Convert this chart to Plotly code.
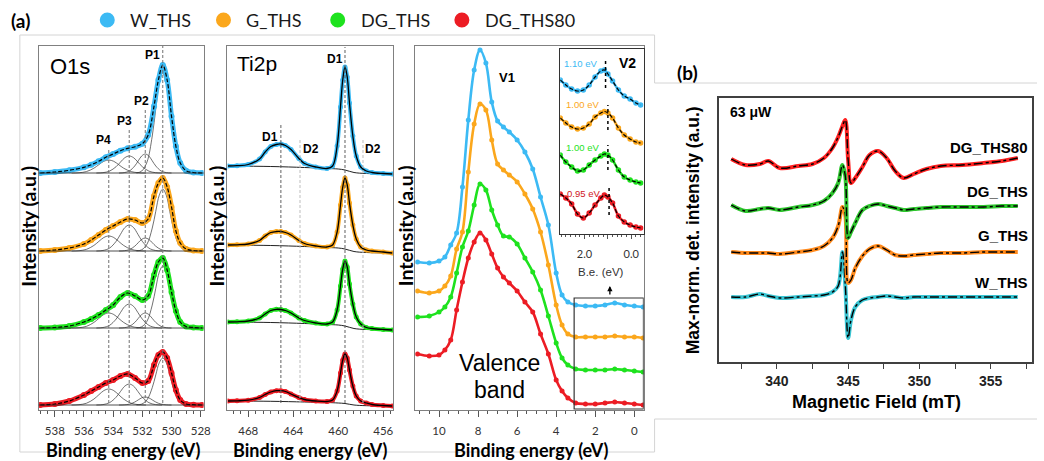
import plotly.graph_objects as go

FIG_W, FIG_H = 1044, 461

SAMPLES = ["W_THS", "G_THS", "DG_THS", "DG_THS80"]
XPS_COLORS = ["#3cbaf4", "#fba71c", "#1ee21e", "#ec1c24"]
EPR_COLORS = ["#38c4d2", "#ff8a1d", "#2ec62e", "#ff2121"]

# ---------------- O 1s core level (binding energy in eV, intensity in a.u.) ----------------
O1S_BE = [539.0, 538.0, 537.0, 536.0, 535.5, 535.0, 534.5, 534.0, 533.5, 533.0, 532.5, 532.0,
          531.6, 531.2, 530.9, 530.6, 530.3, 530.0, 529.7, 529.4, 529.0, 528.5, 527.9]
O1S_W = [0, 1, 2.7, 5.7, 8.3, 11.7, 15.7, 19, 22.3, 24.7, 26.3, 29.3, 38, 66.7, 93, 108, 93, 56.7, 26.7, 10, 2.3, 0.5, 0]
O1S_G = [0, 1, 3, 7, 11, 16, 21, 25, 29, 32, 31, 28, 32, 55, 68, 73, 64, 44, 20, 8, 2, 0.5, 0]
O1S_DG = [0, 0.5, 2, 6, 9, 13, 18, 23, 31, 35, 32, 28, 32, 53, 66, 70, 58, 36, 17, 6, 1.5, 0.5, 0]
O1S_DG80 = [0, 1, 4, 10, 14, 18, 22, 25, 29, 31, 27, 22, 24, 40, 50, 53, 47, 32, 15, 5, 1, 0.3, 0]
O1S_INT = [O1S_W, O1S_G, O1S_DG, O1S_DG80]
O1S_OFFSET = [237, 159, 82, 5]

# fitted components P1..P4
O1S_PEAKS = ["P1", "P2", "P3", "P4"]
O1S_CENTER = [530.6, 531.8, 532.9, 534.3]
O1S_FWHM = [1.2, 1.2, 1.5, 1.7]
O1S_HEIGHT = [[100, 19, 17, 13], [62, 13, 26, 15], [62, 15, 24, 15], [47, 8, 21, 16]]
# tabulated component line shape (offset in FWHM units, relative height)
PROFILE_U = [-1.5, -1.2, -0.9, -0.6, -0.4, -0.2, 0.0, 0.2, 0.4, 0.6, 0.9, 1.2, 1.5]
PROFILE = [0.0, 0.02, 0.11, 0.37, 0.64, 0.9, 1.0, 0.9, 0.64, 0.37, 0.11, 0.02, 0.0]

# ---------------- Ti 2p core level ----------------
TI_BE = [469.8, 469.0, 468.0, 467.0, 466.5, 466.0, 465.5, 465.1, 464.7, 464.2, 463.5, 463.0, 462.0, 461.0,
         460.5, 460.1, 459.8, 459.6, 459.4, 459.2, 459.0, 458.7, 458.4, 458.0, 457.5, 457.0, 456.0, 455.2]
TI_W = [0, 0.3, 1.5, 7, 14, 19.5, 21.5, 22, 20.5, 16.5, 7.5, 2.5, -1, -2.5,
        0, 20, 59, 86, 99, 89, 63, 30, 10, -1, -5, -6.5, -7.5, -8]
TI_G = [0, 0.2, 1, 4.5, 9, 12.5, 13.5, 13.5, 12.5, 10, 4.5, 1.5, -1, -2,
        0, 13, 40, 58, 67, 60, 42, 20, 6, -2, -5, -6, -7, -8]
TI_DG = [0, 0.2, 1, 4, 8, 11.5, 12.7, 12.5, 11.5, 9, 4, 1.5, -1, -2,
         0, 12, 36, 53, 61, 55, 38, 18, 5, -2, -5.5, -6.5, -7.5, -8]
TI_DG80 = [0, 0.2, 0.8, 3.5, 6.5, 9, 10.3, 10.3, 9.5, 7, 3.5, 1.5, 0, -0.5,
           1, 10, 28, 41, 47, 43, 31, 15, 5, 0, -2, -3.5, -4.5, -5]
TI_INT = [TI_W, TI_G, TI_DG, TI_DG80]
TI_OFFSET = [244, 165, 88, 9]
TI_BG_BE = [469.8, 466.0, 463.0, 461.0, 460.0, 459.4, 458.6, 457.5, 455.2]
TI_BG = [[0, -0.5, -1.5, -2.5, -3, -4, -6.5, -7.5, -8],
         [0, -0.5, -1.5, -2.5, -3, -4, -6.5, -7.5, -8],
         [0, -0.5, -1.5, -2.5, -3, -4, -6.5, -7.5, -8],
         [0, -0.3, -1, -1.5, -2, -2.5, -4, -4.7, -5]]
TI_LINE_BE = [459.4, 465.1, 463.4, 457.8]
TI_LINE_LABEL = ["D1", "D1", "D2", "D2"]

# ---------------- Valence band ----------------
VB_BE = [11.1, 10.5, 10.0, 9.7, 9.4, 9.1, 8.8, 8.5, 8.2, 7.9, 7.6, 7.3, 7.0, 6.7, 6.4, 6.0,
         5.6, 5.2, 4.8, 4.4, 4.0, 3.7, 3.4, 3.0, 2.5, 2.0, 1.5, 1.0, 0.5, 0.0, -0.45]
VB_W = [44, 43, 45, 49, 61, 73, 119, 186, 236, 256, 243, 204, 185, 179, 174, 166,
        154, 137, 109, 81, 33, 11, 4, 1, 0, 0, 1, 3, 1, 0, -1]
VB_G = [46, 44, 46, 51, 61, 88, 105, 165, 213, 233, 227, 197, 173, 167, 162, 155,
        143, 128, 105, 72, 32, 12, 3, 0, 0, 0, 0, 1, 0, 0, -1]
VB_DG = [53, 54, 58, 63, 73, 97, 123, 139, 165, 186, 180, 160, 145, 134, 133, 126,
         112, 98, 80, 54, 27, 12, 5, 1, 0, 0, 0, 1, 0, -1, -2]
VB_DG80 = [50, 48, 49, 54, 64, 94, 122, 146, 162, 171, 164, 150, 136, 127, 121, 113,
           102, 92, 70, 50, 24, 13, 6, 1, 0, 0, 1, 2, 1, 0, -1]
VB_INT = [VB_W, VB_G, VB_DG, VB_DG80]
VB_OFFSET = [104, 73, 40, 6]

# ---------------- Valence band edge (V2) ----------------
V2_BE = [3.04, 2.8, 2.55, 2.3, 2.05, 1.8, 1.55, 1.3, 1.15, 1.0, 0.8, 0.55, 0.3, 0.05, -0.2, -0.4]
V2_W = [25, 20, 16, 14, 15, 20, 28, 34, 35, 31, 24, 15, 9, 6, 2, 0]
V2_G = [25, 20, 16, 14, 15, 19, 26, 30, 31.5, 30, 25, 15, 8, 4, 1, 0]
V2_DG = [28, 21, 16, 12, 13, 18, 23, 27, 29, 28, 23, 13, 6, 3, 1, 0]
V2_DG80 = [34, 30, 24, 14, 10, 15, 23, 30, 33, 31, 25, 12, 6, 3, 1, 0]
V2_INT = [V2_W, V2_G, V2_DG, V2_DG80]
V2_OFFSET = [129, 91, 51, 6]
V2_EDGE = [1.10, 1.00, 1.00, 0.95]

# ---------------- EPR (63 uW) ----------------
EPR_B = [336.8, 337.8, 338.8, 339.4, 340.2, 341.5, 342.5, 343.3, 343.9, 344.3, 344.6, 344.8, 345.0, 345.2,
         345.5, 346.0, 346.5, 347.1, 347.7, 348.3, 348.9, 349.6, 350.5, 351.5, 353.0, 354.5, 355.8, 356.9]
EPR_W = [0, 0, 3, 1, -1, 0, 1, 2, 5, 11, 45, 12, -41, -23, -10, -3, -1, 0, 1, 0, -1, 0, 0, 0, 0, 0, 0, 0]
EPR_G = [0, -1, -1, -1, -2, 0, 2, 6, 14, 26, 45, 37, -31, -28, -16, -4, 3, 6, 2, -3, -4, -3, -2, -1, -1, 0, 0, 0]
EPR_DG = [2, -4, -2, -1, -3, 0, 2, 6, 14, 24, 42, 31, -31, -25, -16, -3, 1, 3, 1, -1, -3, -2, -1, 0, 0, 0, 1, 1]
EPR_DG80 = [4, -2, -1, 2, -5, -3, -1, 5, 15, 26, 37, 43, 3, -20, -15, -4, 8, 12, 5, -8, -15, -11, -6, -3, -2, 0, 2, 5]
EPR_INT = [EPR_W, EPR_G, EPR_DG, EPR_DG80]
EPR_OFFSET = [65, 110, 155, 199]


def fx(px):
    return px / FIG_W


def fy(py):
    return 1 - py / FIG_H


def shifted(values, off):
    return [off + v for v in values]


fig = go.Figure()
common = dict(showlegend=False, hoverinfo="skip")

# O 1s
for i, name in enumerate(SAMPLES):
    c, off = XPS_COLORS[i], O1S_OFFSET[i]
    for center, fwhm, h in zip(O1S_CENTER, O1S_FWHM, O1S_HEIGHT[i]):
        fig.add_trace(go.Scatter(x=[center + u * fwhm for u in PROFILE_U], y=[off + h * p for p in PROFILE],
                                 mode="lines", line=dict(color="#333333", width=0.7, shape="spline"),
                                 xaxis="x", yaxis="y", **common))
    fig.add_trace(go.Scatter(x=O1S_BE, y=shifted(O1S_INT[i], off), mode="lines+markers",
                             line=dict(color=c, width=5, shape="spline"), marker=dict(color=c, size=6),
                             xaxis="x", yaxis="y", **common))
    fig.add_trace(go.Scatter(x=O1S_BE, y=shifted(O1S_INT[i], off), mode="lines",
                             line=dict(color="black", width=1.2, dash="4px,2px", shape="spline"),
                             xaxis="x", yaxis="y", **common))

# Ti 2p
for i, name in enumerate(SAMPLES):
    c, off = XPS_COLORS[i], TI_OFFSET[i]
    fig.add_trace(go.Scatter(x=TI_BG_BE, y=shifted(TI_BG[i], off), mode="lines",
                             line=dict(color="#222222", width=1, shape="spline"),
                             xaxis="x2", yaxis="y2", **common))
    fig.add_trace(go.Scatter(x=TI_BE, y=shifted(TI_INT[i], off), mode="lines+markers",
                             line=dict(color=c, width=4, shape="spline"), marker=dict(color=c, size=5),
                             xaxis="x2", yaxis="y2", **common))
    fig.add_trace(go.Scatter(x=TI_BE, y=shifted(TI_INT[i], off), mode="lines",
                             line=dict(color="black", width=1.3, shape="spline"),
                             xaxis="x2", yaxis="y2", **common))

# valence band
for i, name in enumerate(SAMPLES):
    c = XPS_COLORS[i]
    fig.add_trace(go.Scatter(x=VB_BE, y=shifted(VB_INT[i], VB_OFFSET[i]), mode="lines+markers",
                             line=dict(color=c, width=2.6, shape="spline"), marker=dict(color=c, size=5),
                             xaxis="x3", yaxis="y3", **common))

# valence band edge inset
for i, name in enumerate(SAMPLES):
    c = XPS_COLORS[i]
    fig.add_trace(go.Scatter(x=V2_BE, y=shifted(V2_INT[i], V2_OFFSET[i]), mode="lines+markers",
                             line=dict(color=c, width=2.5, shape="spline"), marker=dict(color=c, size=5.5),
                             xaxis="x4", yaxis="y4", **common))
    fig.add_trace(go.Scatter(x=V2_BE, y=shifted(V2_INT[i], V2_OFFSET[i]), mode="lines",
                             line=dict(color="black", width=1.2, dash="4px,2px", shape="spline"),
                             xaxis="x4", yaxis="y4", **common))

# EPR
for i, name in enumerate(SAMPLES):
    c = EPR_COLORS[i]
    fig.add_trace(go.Scatter(x=EPR_B, y=shifted(EPR_INT[i], EPR_OFFSET[i]), mode="lines",
                             line=dict(color=c, width=4, shape="spline"),
                             xaxis="x5", yaxis="y5", **common))
    fig.add_trace(go.Scatter(x=EPR_B, y=shifted(EPR_INT[i], EPR_OFFSET[i]), mode="lines",
                             line=dict(color="black", width=1.4, dash="dashdot", shape="spline"),
                             xaxis="x5", yaxis="y5", **common))

# ---------------- axes ----------------
FRAME = "#808080"
TICKFONT = dict(family="Lato", size=11.5, color="#333333")


def xps_x(domain, rng, tickvals, minor_dtick, tick0, anchor):
    return dict(domain=domain, range=rng, anchor=anchor, showline=True, mirror=True, linecolor=FRAME,
                linewidth=1, ticks="outside", ticklen=6, tickwidth=1, tickcolor="#555555",
                tickmode="array", tickvals=tickvals, tickfont=TICKFONT, ticklabelstandoff=4,
                minor=dict(ticks="outside", ticklen=3, tickwidth=1, tickcolor="#555555",
                           dtick=minor_dtick, tick0=tick0),
                showgrid=False, zeroline=False, fixedrange=True)


def plain_y(domain, rng, anchor, color=FRAME, width=1):
    return dict(domain=domain, range=rng, anchor=anchor, showline=True, mirror=True, linecolor=color,
                linewidth=width, ticks="", showticklabels=False, showgrid=False, zeroline=False,
                fixedrange=True)


XPS_Y_DOM = [fy(410), fy(46)]

layout_axes = dict(
    xaxis=xps_x([fx(39), fx(205)], [539.1, 527.8], [538, 536, 534, 532, 530, 528], 0.5, 528, "y"),
    yaxis=plain_y(XPS_Y_DOM, [0, 364], "x"),
    xaxis2=xps_x([fx(229), fx(396)], [469.85, 455.1], [468, 464, 460, 456], 2 / 3, 456, "y2"),
    yaxis2=plain_y(XPS_Y_DOM, [0, 364], "x2"),
    xaxis3=xps_x([fx(418), fx(648)], [11.22, -0.48], [10, 8, 6, 4, 2, 0], 0.5, 0, "y3"),
    yaxis3=plain_y(XPS_Y_DOM, [0, 364], "x3"),
    xaxis4=dict(domain=[fx(564), fx(648)], range=[3.04, -0.53], anchor="y4", showline=True, mirror=True,
                linecolor="#333333", linewidth=1.2, ticks="outside", ticklen=4, tickcolor="#555555",
                tickmode="array", tickvals=[2, 1, 0], ticktext=["2.0", "", "0.0"],
                tickfont=dict(family="Lato", size=11, color="#333333"), ticklabelstandoff=6,
                minor=dict(ticks="outside", ticklen=2, tickcolor="#555555", dtick=0.2, tick0=0),
                showgrid=False, zeroline=False, fixedrange=True),
    yaxis4=plain_y([fy(234), fy(49)], [0, 185], "x4", color="#333333", width=1.2),
    xaxis5=dict(domain=[fx(724), fx(1039)], range=[335.95, 357.9], anchor="y5", showline=True, mirror=True,
                linecolor="#404040", linewidth=1.5, ticks="outside", ticklen=5, tickwidth=1.2,
                tickcolor="#404040", tickmode="array", tickvals=[340, 345, 350, 355],
                tickfont=dict(family="Liberation Sans", size=14, color="#222222", weight="bold"),
                minor=dict(ticks="outside", ticklen=5, tickwidth=1.2, tickcolor="#404040", dtick=2.5, tick0=335),
                showgrid=False, zeroline=False, fixedrange=True),
    yaxis5=plain_y([fy(362), fy(98)], [0, 264], "x5", color="#404040", width=1.5),
)

# ---------------- shapes ----------------
shapes = []
# composite frames around the two panels
FRAME_LIGHT = "#d4d4d4"
for (x0, y0, x1, y1) in [(20, 35, 659, 35), (20, 35, 20, 452), (20, 452, 659, 452), (659, 35, 659, 83),
                         (659, 83, 1044, 83), (659, 419, 1044, 419), (659, 419, 659, 452)]:
    shapes.append(dict(type="line", xref="paper", yref="paper", x0=fx(x0), y0=fy(y0), x1=fx(x1), y1=fy(y1),
                       line=dict(color=FRAME_LIGHT, width=1)))

# sample key: coloured dots along the top
KEY_DOT_X = [108, 225, 340, 465]
for i, xd in enumerate(KEY_DOT_X):
    shapes.append(dict(type="circle", xref="paper", yref="paper", xsizemode="pixel", ysizemode="pixel",
                       xanchor=fx(xd), yanchor=fy(20), x0=-7.5, x1=7.5, y0=-7.5, y1=7.5,
                       fillcolor=XPS_COLORS[i], line=dict(width=0)))

# O 1s baselines and component markers
for off in O1S_OFFSET:
    shapes.append(dict(type="line", xref="x domain", yref="y", x0=0, x1=1, y0=off, y1=off,
                       line=dict(color="#222222", width=0.8)))
O1S_LINE_TOP = [364, 302, 280, 260]
for center, top in zip(O1S_CENTER, O1S_LINE_TOP):
    shapes.append(dict(type="line", xref="x", yref="y", x0=center, x1=center, y0=7, y1=top,
                       line=dict(color="#707070", width=1, dash="3px,2px")))

# Ti 2p doublet markers
TI_LINE_TOP = [363, 287, 270, 270]
for be, top, lab in zip(TI_LINE_BE, TI_LINE_TOP, TI_LINE_LABEL):
    col = "#606060" if lab == "D1" else "#bdbdbd"
    shapes.append(dict(type="line", xref="x2", yref="y2", x0=be, x1=be, y0=7, y1=top,
                       line=dict(color=col, width=1, dash="3px,2px")))

# valence band edge markers in the inset
V2_LINE_SPAN = [(146, 175), (104, 129), (64, 89), (19, 47)]
for be, (y0, y1) in zip(V2_EDGE, V2_LINE_SPAN):
    shapes.append(dict(type="line", xref="x4", yref="y4", x0=be, x1=be, y0=y0, y1=y1,
                       line=dict(color="black", width=1.5, dash="dot")))

# region shown in the inset
shapes.append(dict(type="rect", xref="x3", yref="y3", x0=3.08, x1=-0.47, y0=1, y1=112,
                   line=dict(color="#333333", width=1.2)))

# ---------------- annotations ----------------
ann = []


def text(t, x, y, size, family="Lato", color="black", xanchor="center", yanchor="middle",
         angle=0, xref="paper", xshift=0):
    ann.append(dict(text=t, x=x, y=y, xref=xref, yref="paper", showarrow=False, xanchor=xanchor,
                    yanchor=yanchor, textangle=angle, xshift=xshift,
                    font=dict(family=family, size=size, color=color)))


ARIAL = "Liberation Sans"
text("<b>(a)</b>", fx(21), fy(20), 19)
text("<b>(b)</b>", fx(692), fy(72), 19)

for i, (name, xd) in enumerate(zip(SAMPLES, KEY_DOT_X)):
    text(name, fx(xd + 21), fy(20), 18, color="#1a1a1a", xanchor="left")

for xc in (124, 312, 535):
    text("<b>Binding energy (eV)</b>", fx(xc), fy(450), 18)
for xc in (29, 218, 409):
    text("<b>Intensity (a.u.)</b>", fx(xc), fy(226), 19.5, angle=-90)

text("O1s", fx(48), fy(66), 22, family=ARIAL, xanchor="left")
text("Ti2p", fx(237), fy(63), 21, family=ARIAL, xanchor="left")

O1S_LABEL_Y = [55, 101, 121, 140]
O1S_LABEL_DX = [-10, -4, -5, -5]
for lab, be, ly, dx in zip(O1S_PEAKS, O1S_CENTER, O1S_LABEL_Y, O1S_LABEL_DX):
    text(f"<b>{lab}</b>", be, fy(ly), 12, family=ARIAL, xref="x", xshift=dx)

TI_LABEL_Y = [59, 137, 149, 149]
TI_LABEL_DX = [-10, -11, 11, 10]
for lab, be, ly, dx in zip(TI_LINE_LABEL, TI_LINE_BE, TI_LABEL_Y, TI_LABEL_DX):
    text(f"<b>{lab}</b>", be, fy(ly), 12, family=ARIAL, xref="x2", xshift=dx)

text("<b>V1</b>", fx(510), fy(77), 13, family=ARIAL)
text("<b>V2</b>", fx(632), fy(63), 14, family=ARIAL)
text("Valence", fx(503), fy(363), 23, family=ARIAL)
text("band", fx(503), fy(390), 23, family=ARIAL)
text("B.e. (eV)", fx(605), fy(272), 11.5, family=ARIAL, color="#333333")

V2_LABEL_Y = [63, 105, 147, 193]
for i, (be, ly) in enumerate(zip(V2_EDGE, V2_LABEL_Y)):
    text(f"{be:.2f} eV", be, fy(ly), 9.5, family=ARIAL, color=XPS_COLORS[i] if i != 3 else "#d0151c",
         xanchor="right", xref="x4", xshift=-7)

ann.append(dict(text="", x=fx(614), y=fy(286), xref="paper", yref="paper", showarrow=True,
                ax=0, ay=10, arrowhead=2, arrowsize=0.8, arrowwidth=1.3, arrowcolor="black"))

# EPR panel text
text("<b>Magnetic Field (mT)</b>", fx(882), fy(402), 18, family=ARIAL)
text("<b>Max-norm. det. intensity (a.u.)</b>", fx(698), fy(230), 17.5, family=ARIAL, angle=-90)
text("<b>63 μW</b>", fx(733), fy(112), 14, family=ARIAL, xanchor="left")
EPR_LABEL_Y = [282, 235, 192, 147]
for name, ly in zip(SAMPLES, EPR_LABEL_Y):
    text(f"<b>{name}</b>", fx(1037), fy(ly), 15, family=ARIAL, xanchor="right")

fig.update_layout(
    width=FIG_W, height=FIG_H, margin=dict(l=0, r=0, t=0, b=0),
    paper_bgcolor="white", plot_bgcolor="rgba(0,0,0,0)", showlegend=False,
    shapes=shapes, annotations=ann, hovermode=False,
    **layout_axes,
)

fig.write_html("out.html")
